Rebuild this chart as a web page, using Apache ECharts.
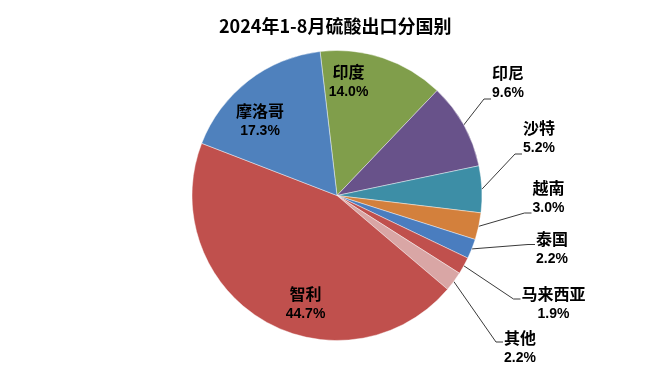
<!DOCTYPE html>
<html>
<head>
<meta charset="utf-8">
<style>
html,body{margin:0;padding:0;background:#fff;}
#chart{width:652px;height:378px;}
</style>
<script src="https://cdn.jsdelivr.net/npm/echarts@6/dist/echarts.min.js"></script>
</head>
<body>
<div id="chart"></div>
<script>
// ---- data ----
const titleText = '2024年1-8月硫酸出口分国别';
const categories = ['印度', '印尼', '沙特', '越南', '泰国', '马来西亚', '其他', '智利', '摩洛哥'];
const shares = [14.0, 9.6, 5.2, 3.0, 2.2, 1.9, 2.2, 44.7, 17.3];
const insideLabels = ['印度', '智利', '摩洛哥'];

// ---- styles / layout ----
const sliceColors = {
  '印度': '#809e4b', '印尼': '#68528a', '沙特': '#3d8ea6', '越南': '#d3803c',
  '泰国': '#4a7dbf', '马来西亚': '#c0504d', '其他': '#d9a6a5', '智利': '#c0504d', '摩洛哥': '#4f81bd'
};
// label centre x, centre y, attach offset of leader line (outside labels)
const labelPlace = {
  '印度': [348.5, 82], '摩洛哥': [260, 121], '智利': [305.5, 303.5],
  '印尼': [508, 83, 16], '沙特': [539, 138, 16], '越南': [548.5, 197.5, 15.5],
  '泰国': [552, 248.5, -4], '马来西亚': [553.5, 303.5, -4.5], '其他': [520, 348, -6]
};

const chart = echarts.init(document.getElementById('chart'), null, {renderer: 'canvas'});

const seriesData = categories.map((name, i) => {
  const inside = insideLabels.indexOf(name) >= 0;
  return {
    name: name,
    value: shares[i],
    itemStyle: {color: sliceColors[name]},
    label: {position: inside ? 'inside' : 'outside'},
    labelLine: {show: !inside}
  };
});

chart.setOption({
  backgroundColor: '#ffffff',
  animation: false,
  title: {
    text: titleText,
    left: 214,
    top: 12,
    textStyle: {
      fontFamily: 'Noto Sans CJK SC',
      fontSize: 18,
      fontWeight: 'bold',
      color: '#000'
    }
  },
  series: [{
    type: 'pie',
    center: [337, 195.5],
    radius: ['0%', 145],
    startAngle: 96.7,
    clockwise: true,
    avoidLabelOverlap: false,
    itemStyle: {borderColor: 'rgba(255,255,255,0.7)', borderWidth: 0.6},
    label: {
      show: true,
      formatter: p => '{n|' + p.name + '}\n{p|' + p.value.toFixed(1) + '%}',
      rich: {
        n: {fontFamily: 'Noto Sans CJK SC', fontSize: 16, fontWeight: 'bold', color: '#000', lineHeight: 21, align: 'center'},
        p: {fontFamily: 'Liberation Sans', fontSize: 14, fontWeight: 'bold', color: '#000', lineHeight: 20, align: 'center'}
      }
    },
    labelLine: {
      show: true,
      length: 10,
      length2: 8,
      lineStyle: {color: '#3a3a3a', width: 1}
    },
    labelLayout: function (p) {
      const name = categories[p.dataIndex];
      const pl = labelPlace[name];
      const out = {x: pl[0], y: pl[1], align: 'center', verticalAlign: 'middle'};
      if (pl.length > 2 && p.labelLinePoints && p.labelLinePoints.length) {
        const s = p.labelLinePoints[0];
        const w = p.labelRect ? p.labelRect.width : 40;
        const ex = pl[0] - w / 2 - 1;
        const ey = pl[1] + pl[2];
        out.labelLinePoints = [[s[0], s[1]], [ex - 7, ey], [ex, ey]];
      }
      return out;
    },
    data: seriesData
  }]
});
</script>
</body>
</html>
